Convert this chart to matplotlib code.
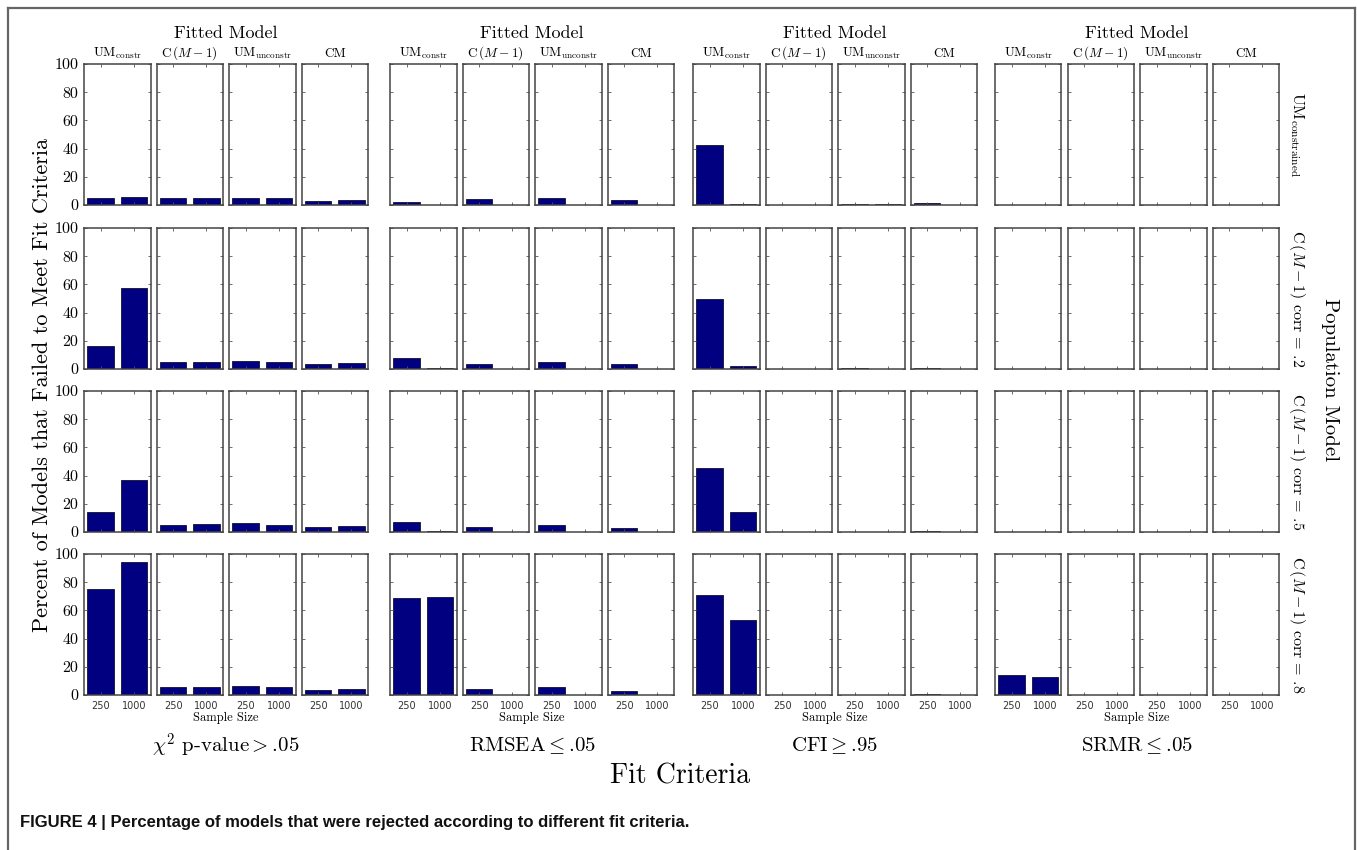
import matplotlib
matplotlib.use("Agg")
import matplotlib.pyplot as plt
from matplotlib.lines import Line2D

plt.rcParams['mathtext.fontset'] = 'cm'
plt.rcParams['axes.unicode_minus'] = False
plt.rcParams['font.family'] = ['cmr10', 'DejaVu Serif']

# ---------------- data ----------------
sample_sizes = ["250", "1000"]
fitted_models = [r"$\rm UM_{constr}$", r"C$\,(M-1)$", r"$\rm UM_{unconstr}$", "CM"]
population_models = [r"$\rm UM_{constrained}$", r"C$\,(M-1)$ corr = .2",
                     r"C$\,(M-1)$ corr = .5", r"C$\,(M-1)$ corr = .8"]
criteria = [r"$\chi^2$ p-value$>$.05", r"RMSEA$\leq$.05",
            r"CFI$\geq$.95", r"SRMR$\leq$.05"]

# rows = population model; each row: (UMconstr 250, 1000, C(M-1) 250, 1000, UMunconstr 250, 1000, CM 250, 1000)
chi2_vals = [
    [5.2, 5.7, 5.2, 5.2, 5.2, 5.2, 3.1, 3.5],
    [16.3, 57.4, 5.0, 5.0, 5.5, 5.0, 3.5, 4.0],
    [14.4, 37.0, 5.2, 5.9, 6.6, 5.2, 3.8, 4.5],
    [75.4, 94.0, 5.9, 5.9, 6.6, 5.4, 3.3, 4.3],
]
rmsea_vals = [
    [2.0, 0.0, 4.0, 0.0, 5.0, 0.0, 3.3, 0.0],
    [7.5, 0.7, 3.5, 0.0, 5.0, 0.0, 3.5, 0.0],
    [7.0, 1.0, 3.5, 0.0, 5.0, 0.0, 3.0, 0.0],
    [68.8, 69.5, 4.5, 0.0, 6.0, 0.0, 3.0, 0.0],
]
cfi_vals = [
    [42.5, 0.5, 0.2, 0.2, 0.7, 0.5, 1.5, 0.0],
    [49.6, 2.0, 0.0, 0.0, 0.5, 0.0, 0.5, 0.0],
    [45.6, 14.0, 0.0, 0.0, 0.0, 0.0, 0.5, 0.0],
    [71.0, 53.0, 0.0, 0.0, 0.0, 0.0, 0.5, 0.0],
]
srmr_vals = [
    [0, 0, 0, 0, 0, 0, 0, 0],
    [0, 0, 0, 0, 0, 0, 0, 0],
    [0, 0, 0, 0, 0, 0, 0, 0],
    [14.0, 13.0, 0, 0, 0, 0, 0, 0],
]
all_vals = [chi2_vals, rmsea_vals, cfi_vals, srmr_vals]

# ---------------- layout ----------------
W, H = 1357, 850
fig = plt.figure(figsize=(W / 100, H / 100), dpi=100)
fig.patch.set_facecolor('white')

def fx(x):
    return x / W

def fy(y):
    return 1 - y / H

group_left = [84, 390, 693, 995]
panel_step = 72.5
panel_w = 66.5
row_top = [64, 228, 391, 554]
panel_h = 141
bar_color = '#000080'

for g in range(4):
    for r in range(4):
        for m in range(4):
            x0 = group_left[g] + m * panel_step
            y0 = row_top[r]
            ax = fig.add_axes([fx(x0), fy(y0 + panel_h), panel_w / W, panel_h / H])
            vals = all_vals[g][r][2 * m:2 * m + 2]
            ax.bar([1, 2], vals, width=0.8, color=bar_color, edgecolor='#111133', linewidth=0.6)
            ax.set_xlim(0.5, 2.5)
            ax.set_ylim(0, 100)
            ax.set_xticks([1, 2])
            ax.set_yticks([0, 20, 40, 60, 80, 100])
            ax.tick_params(direction='in', length=2.5, width=0.6, color='#555555',
                           top=True, right=True, pad=4)
            for s in ax.spines.values():
                s.set_color('#444444')
                s.set_linewidth(1.1)
            if r == 3:
                ax.set_xticklabels(sample_sizes, fontsize=7, family='DejaVu Sans', color='#333333')
            else:
                ax.set_xticklabels([])
            if g == 0 and m == 0:
                ax.set_yticklabels([str(v) for v in [0, 20, 40, 60, 80, 100]], fontsize=11.5)
            else:
                ax.set_yticklabels([])
            if r == 0:
                ax.set_title(fitted_models[m], fontsize=9.5, pad=5)
    gc = group_left[g] + (3 * panel_step + panel_w) / 2
    fig.text(fx(gc), fy(33), "Fitted Model", ha='center', va='center', fontsize=13)
    fig.text(fx(gc), fy(718), "Sample Size", ha='center', va='center', fontsize=9)
    fig.text(fx(gc), fy(746), criteria[g], ha='center', va='center', fontsize=15)

for r in range(4):
    fig.text(fx(1297), fy(row_top[r] + panel_h / 2), population_models[r],
             rotation=-90, ha='center', va='center', fontsize=11.5)

fig.text(fx(1330), fy(380), "Population Model", rotation=-90, ha='center', va='center', fontsize=15)
fig.text(fx(42), fy(385), "Percent of Models that Failed to Meet Fit Criteria",
         rotation=90, ha='center', va='center', fontsize=16)
fig.text(fx(680), fy(776), "Fit Criteria", ha='center', va='center', fontsize=20)

fig.text(fx(20), fy(822),
         "FIGURE 4 | Percentage of models that were rejected according to different fit criteria.",
         ha='left', va='center', fontsize=12, fontweight='bold',
         family=['Liberation Sans Narrow', 'Liberation Sans', 'DejaVu Sans'], color='#111111')

# frame around figure
border_kw = dict(color='#666666', linewidth=1.6, transform=fig.transFigure)
fig.add_artist(Line2D([fx(8), fx(8)], [fy(8), 0], **border_kw))
fig.add_artist(Line2D([fx(8), fx(1355)], [fy(8), fy(8)], **border_kw))
fig.add_artist(Line2D([fx(1355), fx(1355)], [fy(8), 0], **border_kw))

fig.savefig("out.png", dpi=100, facecolor='white')
